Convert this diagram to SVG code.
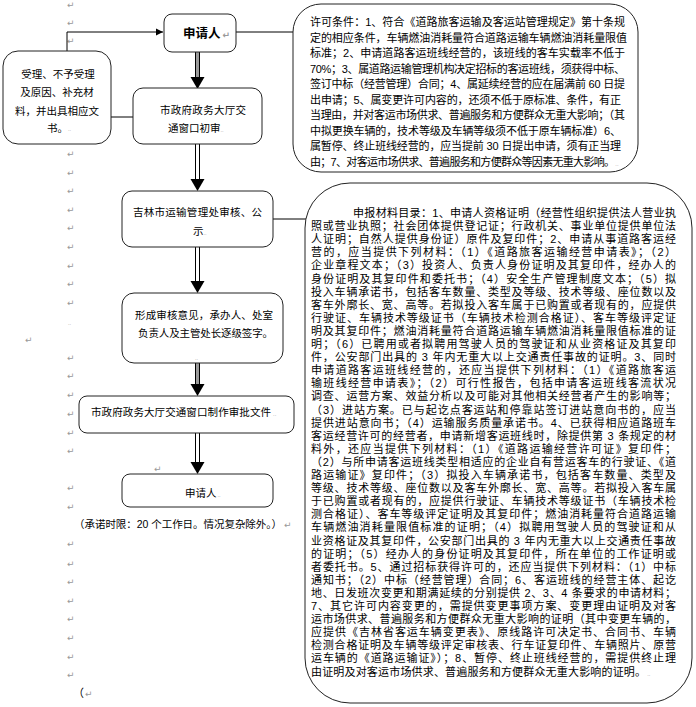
<svg xmlns="http://www.w3.org/2000/svg" width="696" height="707" viewBox="0 0 696 707">
<defs>
<style>
.box{fill:#fff;stroke:#222;stroke-width:1}
.ln{fill:none;stroke:#000;stroke-width:1}
.t{font-family:"Liberation Sans","Noto Sans CJK SC",sans-serif;font-size:10.5px;fill:#000}
.s{font-family:"Liberation Sans","Noto Sans CJK SC",sans-serif;font-size:11px;fill:#000}
.b{font-family:"Liberation Sans","Noto Sans CJK SC",sans-serif;font-size:12.5px;font-weight:bold;fill:#000}
.pm{font-family:"DejaVu Sans",sans-serif;font-size:9px;fill:#999}
.tm{font-family:"DejaVu Sans",sans-serif;font-size:5px;fill:#999}
.mid{text-anchor:middle}
</style>
<marker id="ah" markerWidth="8" markerHeight="8" refX="7" refY="4" orient="auto" markerUnits="userSpaceOnUse">
<path d="M0,0.5 L7,4 L0,7.5 Z" fill="#000"/>
</marker>
</defs>
<rect width="696" height="707" fill="#fff"/>

<g id="paragraph-marks">
<text class="pm" x="67" y="8">↵</text>
<text class="pm" x="67" y="26">↵</text>
<text class="pm" x="67" y="44">↵</text>
<text class="pm" x="67" y="157">↵</text>
<text class="pm" x="67" y="176">↵</text>
<text class="pm" x="67" y="194">↵</text>
<text class="pm" x="67" y="213">↵</text>
<text class="pm" x="67" y="231">↵</text>
<text class="pm" x="67" y="250">↵</text>
<text class="pm" x="67" y="269">↵</text>
<text class="pm" x="67" y="287">↵</text>
<text class="pm" x="67" y="306">↵</text>
<text class="tm" x="68" y="325">..</text>
<text class="pm" x="25" y="343">↵</text>
<text class="pm" x="67" y="361">↵</text>
<text class="pm" x="67" y="379">↵</text>
<text class="pm" x="67" y="398">↵</text>
<text class="pm" x="67" y="417">↵</text>
<text class="pm" x="67" y="436">↵</text>
<text class="pm" x="67" y="454">↵</text>
<text class="pm" x="154" y="472">↵</text>
<text class="pm" x="67" y="491">↵</text>
<text class="pm" x="67" y="510">↵</text>
<text class="pm" x="67" y="547">↵</text>
<text class="pm" x="67" y="567">↵</text>
<text class="pm" x="67" y="585">↵</text>
<text class="pm" x="67" y="604">↵</text>
<text class="pm" x="67" y="622">↵</text>
<text class="pm" x="67" y="641">↵</text>
<text class="pm" x="67" y="660">↵</text>
<text class="pm" x="67" y="678">↵</text>
<text class="s" x="73" y="697">（<tspan class="pm" dx="1">↵</tspan></text>
</g>

<g id="connectors">
<polyline class="ln" points="67,51 67,32 163,32" marker-end="url(#ah)"/>
<line class="ln" x1="111" y1="117" x2="133" y2="117"/>
<line class="ln" x1="236" y1="32" x2="293" y2="32"/>
<line class="ln" x1="273" y1="219" x2="306" y2="219"/>
<rect x="195.5" y="52" width="4" height="25" fill="#9a9a9a"/>
<line class="ln" x1="195.5" y1="52" x2="195.5" y2="77"/>
<line class="ln" x1="199.5" y1="52" x2="199.5" y2="77"/>
<polygon points="190.5,77 204.5,77 197.5,89" fill="#000"/>
<line class="ln" x1="195.5" y1="144" x2="195.5" y2="179"/>
<line class="ln" x1="199.5" y1="144" x2="199.5" y2="179"/>
<polygon points="190.5,179 204.5,179 197.5,191" fill="#000"/>
<line class="ln" x1="195.5" y1="247" x2="195.5" y2="281"/>
<line class="ln" x1="199.5" y1="247" x2="199.5" y2="281"/>
<polygon points="190.5,281 204.5,281 197.5,293" fill="#000"/>
<rect x="195.5" y="363" width="4" height="21" fill="#9a9a9a"/>
<line class="ln" x1="195.5" y1="363" x2="195.5" y2="384"/>
<line class="ln" x1="199.5" y1="363" x2="199.5" y2="384"/>
<polygon points="190.5,384 204.5,384 197.5,396" fill="#000"/>
<line class="ln" x1="195.5" y1="433" x2="195.5" y2="462"/>
<line class="ln" x1="199.5" y1="433" x2="199.5" y2="462"/>
<polygon points="190.5,462 204.5,462 197.5,474" fill="#000"/>
</g>

<g id="node-applicant-top">
<rect class="box" x="164" y="14" width="72" height="38" rx="8"/>
<text class="b" x="183" y="37.5">申请人<tspan class="pm" dx="2">↵</tspan></text>
</g>

<g id="node-accept">
<rect class="box" x="3" y="51" width="108" height="93" rx="15"/>
<text class="t mid"><tspan x="58" y="78">受理、不予受理</tspan><tspan x="57" y="96">及原因、补充材</tspan><tspan x="57" y="115">料，并出具相应文</tspan></text>
<text class="t" x="47" y="132">书。<tspan class="tm" dy="-1">..</tspan></text>
</g>

<g id="node-initial-review">
<rect class="box" x="133" y="88" width="129" height="56" rx="10"/>
<text class="t"><tspan x="160" y="114" textLength="86" lengthAdjust="spacing">市政府政务大厅交</tspan><tspan x="168" y="132">通窗口初审</tspan><tspan class="tm">..</tspan></text>
</g>

<g id="node-conditions">
<rect class="box" x="293" y="4" width="345" height="168" rx="28"/>
<text class="s">
<tspan x="310" y="26" textLength="315" lengthAdjust="spacing">许可条件：1、符合《道路旅客运输及客运站管理规定》第十条规</tspan>
<tspan x="310" y="41.5" textLength="317" lengthAdjust="spacing">定的相应条件，车辆燃油消耗量符合道路运输车辆燃油消耗量限值</tspan>
<tspan x="310" y="57" textLength="315" lengthAdjust="spacing">标准；2、申请道路客运班线经营的，该班线的客车实载率不低于</tspan>
<tspan x="310" y="72.5" textLength="315" lengthAdjust="spacing">70%；3、属道路运输管理机构决定招标的客运班线，须获得中标、</tspan>
<tspan x="310" y="88" textLength="315" lengthAdjust="spacing">签订中标（经营管理）合同；4、属延续经营的应在届满前 60 日提</tspan>
<tspan x="310" y="103.5" textLength="311" lengthAdjust="spacing">出申请；5、属变更许可内容的，还须不低于原标准、条件，有正</tspan>
<tspan x="310" y="119" textLength="315" lengthAdjust="spacing">当理由，并对客运市场供求、普遍服务和方便群众无重大影响；（其</tspan>
<tspan x="310" y="134.5" textLength="311" lengthAdjust="spacing">中拟更换车辆的，技术等级及车辆等级须不低于原车辆标准）6、</tspan>
<tspan x="310" y="150" textLength="311" lengthAdjust="spacing">属暂停、终止班线经营的，应当提前 30 日提出申请，须有正当理</tspan>
<tspan x="310" y="165.5" textLength="305" lengthAdjust="spacing">由；7、对客运市场供求、普遍服务和方便群众等因素无重大影响。</tspan><tspan class="tm" dx="1">..</tspan>
</text>
</g>

<g id="node-jilin-review">
<rect class="box" x="122" y="191" width="151" height="56" rx="10"/>
<text class="t"><tspan x="133" y="216" textLength="129" lengthAdjust="spacing">吉林市运输管理处审核、公</tspan><tspan x="193" y="235">示</tspan><tspan class="tm">..</tspan></text>
</g>

<g id="node-materials">
<rect class="box" x="305" y="183" width="387" height="520" rx="45"/>
<text class="s">
<tspan x="353" y="217" textLength="323" lengthAdjust="spacing">申报材料目录：1、申请人资格证明（经营性组织提供法人营业执</tspan>
<tspan x="311" y="230.1" textLength="365" lengthAdjust="spacing">照或营业执照；社会团体提供登记证；行政机关、事业单位提供单位法</tspan>
<tspan x="311" y="243.2" textLength="365" lengthAdjust="spacing">人证明；自然人提供身份证）原件及复印件；2、申请从事道路客运经</tspan>
<tspan x="311" y="256.3" textLength="365" lengthAdjust="spacing">营的，应当提供下列材料：（1）《道路旅客运输经营申请表》；（2）</tspan>
<tspan x="311" y="269.4" textLength="365" lengthAdjust="spacing">企业章程文本；（3）投资人、负责人身份证明及其复印件，经办人的</tspan>
<tspan x="311" y="282.5" textLength="365" lengthAdjust="spacing">身份证明及其复印件和委托书；（4）安全生产管理制度文本；（5）拟</tspan>
<tspan x="311" y="295.6" textLength="365" lengthAdjust="spacing">投入车辆承诺书，包括客车数量、类型及等级、技术等级、座位数以及</tspan>
<tspan x="311" y="308.7" textLength="365" lengthAdjust="spacing">客车外廓长、宽、高等。若拟投入客车属于已购置或者现有的，应提供</tspan>
<tspan x="311" y="321.8" textLength="365" lengthAdjust="spacing">行驶证、车辆技术等级证书（车辆技术检测合格证）、客车等级评定证</tspan>
<tspan x="311" y="334.9" textLength="365" lengthAdjust="spacing">明及其复印件；燃油消耗量符合道路运输车辆燃油消耗量限值标准的证</tspan>
<tspan x="311" y="348" textLength="365" lengthAdjust="spacing">明；（6）已聘用或者拟聘用驾驶人员的驾驶证和从业资格证及其复印</tspan>
<tspan x="311" y="361.1" textLength="365" lengthAdjust="spacing">件，公安部门出具的 3 年内无重大以上交通责任事故的证明。3、同时</tspan>
<tspan x="311" y="374.2" textLength="365" lengthAdjust="spacing">申请道路客运班线经营的，还应当提供下列材料：（1）《道路旅客运</tspan>
<tspan x="311" y="387.3" textLength="365" lengthAdjust="spacing">输班线经营申请表》；（2）可行性报告，包括申请客运班线客流状况</tspan>
<tspan x="311" y="400.4" textLength="365" lengthAdjust="spacing">调查、运营方案、效益分析以及可能对其他相关经营者产生的影响等；</tspan>
<tspan x="311" y="413.5" textLength="365" lengthAdjust="spacing">（3）进站方案。已与起讫点客运站和停靠站签订进站意向书的，应当</tspan>
<tspan x="311" y="426.6" textLength="365" lengthAdjust="spacing">提供进站意向书；（4）运输服务质量承诺书。4、已获得相应道路班车</tspan>
<tspan x="311" y="439.7" textLength="365" lengthAdjust="spacing">客运经营许可的经营者，申请新增客运班线时，除提供第 3 条规定的材</tspan>
<tspan x="311" y="452.8" textLength="365" lengthAdjust="spacing">料外，还应当提供下列材料：（1）《道路运输经营许可证》复印件；</tspan>
<tspan x="311" y="465.9" textLength="365" lengthAdjust="spacing">（2）与所申请客运班线类型相适应的企业自有营运客车的行驶证、《道</tspan>
<tspan x="311" y="479" textLength="365" lengthAdjust="spacing">路运输证》复印件；（3）拟投入车辆承诺书，包括客车数量、类型及</tspan>
<tspan x="311" y="492.1" textLength="365" lengthAdjust="spacing">等级、技术等级、座位数以及客车外廓长、宽、高等。若拟投入客车属</tspan>
<tspan x="311" y="505.2" textLength="365" lengthAdjust="spacing">于已购置或者现有的，应提供行驶证、车辆技术等级证书（车辆技术检</tspan>
<tspan x="311" y="518.3" textLength="365" lengthAdjust="spacing">测合格证）、客车等级评定证明及其复印件；燃油消耗量符合道路运输</tspan>
<tspan x="311" y="531.4" textLength="365" lengthAdjust="spacing">车辆燃油消耗量限值标准的证明；（4）拟聘用驾驶人员的驾驶证和从</tspan>
<tspan x="311" y="544.5" textLength="365" lengthAdjust="spacing">业资格证及其复印件，公安部门出具的 3 年内无重大以上交通责任事故</tspan>
<tspan x="311" y="557.6" textLength="365" lengthAdjust="spacing">的证明；（5）经办人的身份证明及其复印件，所在单位的工作证明或</tspan>
<tspan x="311" y="570.7" textLength="365" lengthAdjust="spacing">者委托书。5、通过招标获得许可的，还应当提供下列材料：（1）中标</tspan>
<tspan x="311" y="583.8" textLength="365" lengthAdjust="spacing">通知书；（2）中标（经营管理）合同；6、客运班线的经营主体、起讫</tspan>
<tspan x="311" y="596.9" textLength="365" lengthAdjust="spacing">地、日发班次变更和期满延续的分别提供 2、3、4 条要求的申请材料；</tspan>
<tspan x="311" y="610" textLength="365" lengthAdjust="spacing">7、其它许可内容变更的，需提供变更事项方案、变更理由证明及对客</tspan>
<tspan x="311" y="623.1" textLength="365" lengthAdjust="spacing">运市场供求、普遍服务和方便群众无重大影响的证明（其中变更车辆的，</tspan>
<tspan x="311" y="636.2" textLength="365" lengthAdjust="spacing">应提供《吉林省客运车辆变更表》、原线路许可决定书、合同书、车辆</tspan>
<tspan x="311" y="649.3" textLength="365" lengthAdjust="spacing">检测合格证明及车辆等级评定审核表、行车证复印件、车辆照片、原营</tspan>
<tspan x="311" y="662.4" textLength="365" lengthAdjust="spacing">运车辆的《道路运输证》）；8、暂停、终止班线经营的，需提供终止理</tspan>
<tspan x="311" y="675.5" textLength="335" lengthAdjust="spacing">由证明及对客运市场供求、普遍服务和方便群众无重大影响的证明。</tspan><tspan class="tm" dx="1">..</tspan>
</text>
</g>

<g id="node-opinion">
<rect class="box" x="122" y="293" width="161" height="70" rx="12"/>
<text class="t"><tspan x="135" y="319" textLength="138" lengthAdjust="spacing">形成审核意见，承办人、处室</tspan><tspan x="138" y="337" textLength="135" lengthAdjust="spacing">负责人及主管处长逐级签字。</tspan></text>
<text class="tm" x="195" y="360">..</text>
</g>

<g id="node-make-docs">
<rect class="box" x="79" y="396" width="215" height="37" rx="8"/>
<text class="t" x="91" y="416"><tspan textLength="180" lengthAdjust="spacing">市政府政务大厅交通窗口制作审批文件</tspan><tspan class="tm" dx="2">..</tspan></text>
</g>

<g id="node-applicant-bottom">
<rect class="box" x="122" y="474" width="151" height="33" rx="8"/>
<text class="t" x="185" y="497">申请人<tspan class="tm" dx="1">..</tspan></text>
</g>

<g id="note">
<text class="t" x="74" y="528"><tspan textLength="208" lengthAdjust="spacing">（承诺时限：20 个工作日。情况复杂除外。）</tspan><tspan class="pm" dx="2">↵</tspan></text>
</g>
</svg>
